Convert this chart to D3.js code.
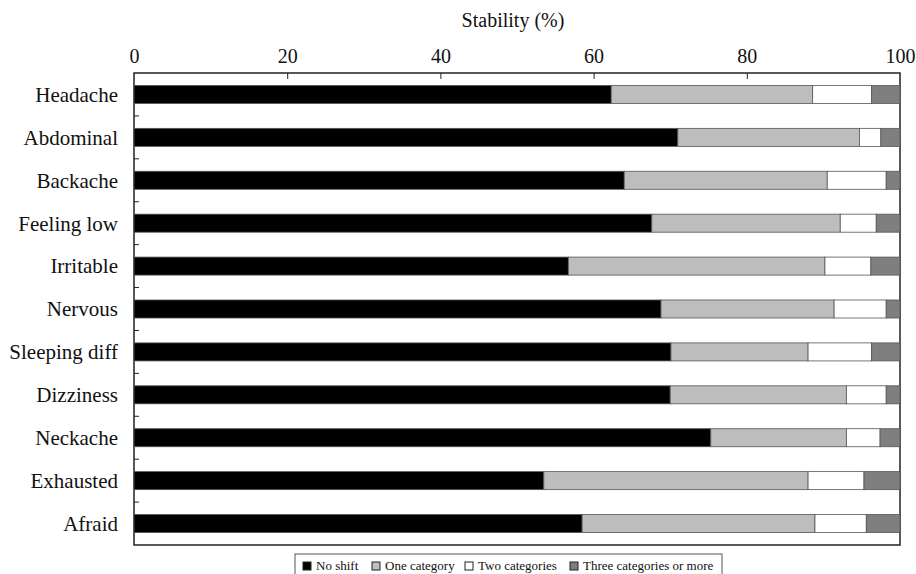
<!DOCTYPE html>
<html>
<head>
<meta charset="utf-8">
<script src="https://cdn.jsdelivr.net/npm/d3@7"></script>
<style>
  body { margin: 0; background: #fff; }
  svg text { font-family: "Liberation Serif", "DejaVu Serif", serif; fill: #111; }
</style>
</head>
<body>
<svg id="chart" width="916" height="574"></svg>
<script>
// symptoms, top to bottom
var categories = ["Headache", "Abdominal", "Backache", "Feeling low", "Irritable", "Nervous",
    "Sleeping diff", "Dizziness", "Neckache", "Exhausted", "Afraid"];

// percentage in each stability group
var noShift    = [62.3, 71.0, 64.0, 67.6, 56.7, 68.8, 70.1, 70.0, 75.3, 53.5, 58.5];
var oneCat     = [26.3, 23.7, 26.5, 24.6, 33.5, 22.6, 17.9, 23.0, 17.7, 34.5, 30.4];
var twoCat     = [7.7, 2.8, 7.7, 4.7, 6.0, 6.8, 8.3, 5.2, 4.4, 7.3, 6.7];
var threeCat   = [3.7, 2.5, 1.8, 3.1, 3.8, 1.8, 3.7, 1.8, 2.6, 4.7, 4.4];

var seriesNames = ["No shift", "One category", "Two categories", "Three categories or more"];
var xTicks = [0, 20, 40, 60, 80, 100];

var colors = ["#000000", "#bdbdbd", "#ffffff", "#7f7f7f"];
var serif = "'Liberation Serif', 'DejaVu Serif', serif";

var margin = {top: 73, left: 134, right: 16, bottom: 29};
var width = 916 - margin.left - margin.right,
    height = 574 - margin.top - margin.bottom;

var svg = d3.select("#chart");
var g = svg.append("g").attr("transform", "translate(" + margin.left + "," + margin.top + ")");

var x = d3.scaleLinear().domain([0, 100]).range([0, width]);
var y = d3.scaleBand().domain(categories).range([0, height]).paddingInner(0.58).paddingOuter(0.29);

var rows = categories.map(function (c, i) {
    return {cat: c, s0: noShift[i], s1: oneCat[i], s2: twoCat[i], s3: threeCat[i]};
});
var stack = d3.stack().keys(["s0", "s1", "s2", "s3"])(rows);

// frame
g.append("rect").attr("width", width).attr("height", height)
    .attr("fill", "none").attr("stroke", "#222").attr("stroke-width", 1.5);

// bars
g.selectAll("g.layer").data(stack).enter().append("g")
    .attr("class", "layer")
    .attr("fill", function (d, i) { return colors[i]; })
    .selectAll("rect").data(function (d) { return d; }).enter().append("rect")
    .attr("x", function (d) { return x(d[0]); })
    .attr("width", function (d) { return x(d[1]) - x(d[0]); })
    .attr("y", function (d) { return y(d.data.cat); })
    .attr("height", y.bandwidth())
    .attr("stroke", "#555").attr("stroke-width", 0.8);

// top axis, ticks pointing into plot
var xAxis = g.append("g").call(d3.axisTop(x).tickValues(xTicks).tickSize(-6).tickPadding(10));
xAxis.attr("font-family", serif);
xAxis.select(".domain").remove();
xAxis.selectAll(".tick line").attr("stroke", "#222")
    .filter(function (d) { return d === 0 || d === 100; }).remove();
xAxis.selectAll("text").attr("font-size", 20).attr("font-family", serif).attr("dy", "0");

svg.append("text").attr("x", 513).attr("y", 27)
    .attr("text-anchor", "middle").attr("font-size", 20).attr("font-family", serif)
    .text("Stability (%)");

// category labels
g.selectAll("text.cat").data(categories).enter().append("text")
    .attr("class", "cat")
    .attr("x", -16)
    .attr("y", function (d) { return y(d) + y.bandwidth() / 2; })
    .attr("dy", "0.35em")
    .attr("text-anchor", "end").attr("font-size", 21).attr("font-family", serif)
    .text(function (d) { return d; });

// small ticks between categories on the left edge
var step = y.step();
g.selectAll("line.ytick").data(categories.slice(1)).enter().append("line")
    .attr("x1", 0).attr("x2", 5)
    .attr("y1", function (d) { return y(d) - y.paddingInner() * step / 2; })
    .attr("y2", function (d) { return y(d) - y.paddingInner() * step / 2; })
    .attr("stroke", "#222");

// legend
var lg = svg.append("g").attr("transform", "translate(295,554)");
lg.append("rect").attr("width", 427).attr("height", 23)
    .attr("fill", "#fff").attr("stroke", "#555");
var lx = [8, 77, 170, 275];
seriesNames.forEach(function (name, i) {
    lg.append("rect").attr("x", lx[i]).attr("y", 8).attr("width", 8).attr("height", 8)
        .attr("fill", colors[i]).attr("stroke", "#222");
    lg.append("text").attr("x", lx[i] + 13).attr("y", 16).attr("font-size", 13)
        .attr("font-family", serif).text(name);
});
</script>
</body>
</html>
